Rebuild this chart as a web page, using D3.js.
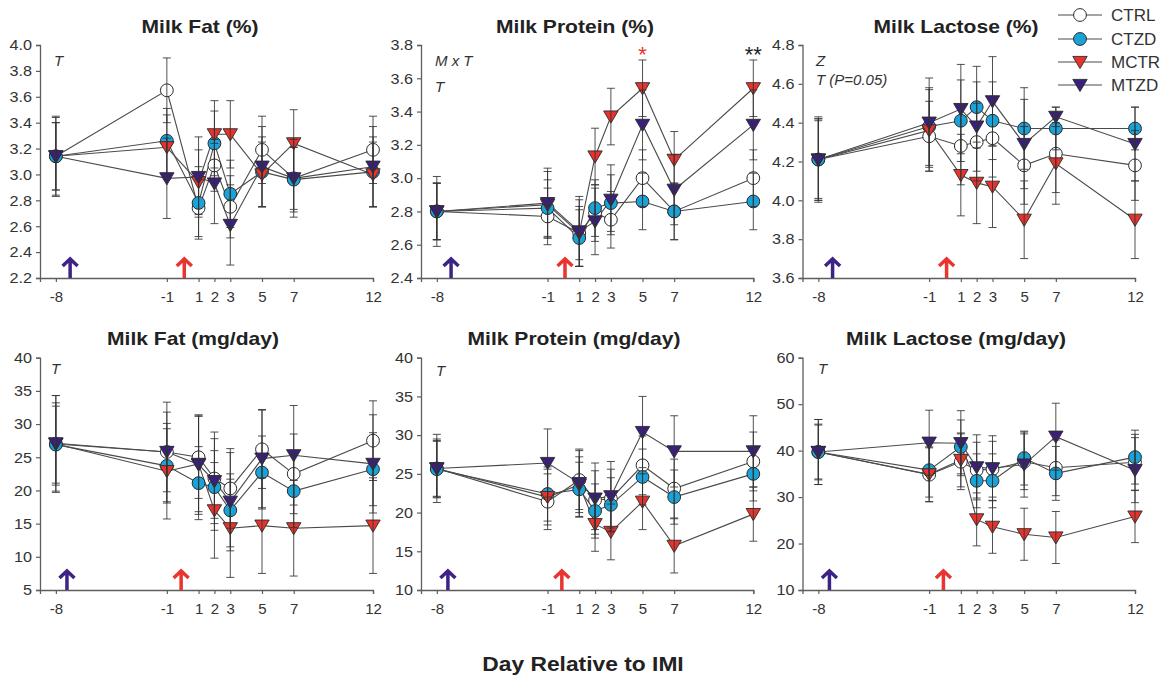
<!DOCTYPE html>
<html>
<head>
<meta charset="utf-8">
<script src="https://cdn.jsdelivr.net/npm/d3@7"></script>
<style>
  body { margin: 0; background: #fff; }
  svg { display: block; font-family: Arial, "Liberation Sans", sans-serif; }
</style>
</head>
<body>
<svg id="chart" width="1167" height="677"></svg>
<script>
// Sampling days relative to intramammary infection (IMI)
const days = [-8, -1, 1, 2, 3, 5, 7, 12];
const groups = ["CTRL", "CTZD", "MCTR", "MTZD"];

// Milk fat (%): means and SE per group
const fatPctMeans = {
  CTRL: [3.14, 3.65, 2.74, 3.07, 2.75, 3.19, 2.97, 3.19],
  CTZD: [3.14, 3.26, 2.78, 3.24, 2.85, 3.02, 2.96, 3.02],
  MCTR: [3.14, 3.21, 2.94, 3.31, 3.31, 3.00, 3.24, 3.00],
  MTZD: [3.14, 2.97, 2.98, 2.93, 2.61, 3.06, 2.97, 3.06]
};
const fatPctSE = {
  CTRL: [0.26, 0.25, 0.22, 0.20, 0.24, 0.26, 0.24, 0.26],
  CTZD: [0.26, 0.25, 0.28, 0.25, 0.26, 0.27, 0.25, 0.27],
  MCTR: [0.30, 0.25, 0.25, 0.26, 0.26, 0.25, 0.26, 0.25],
  MTZD: [0.31, 0.31, 0.31, 0.31, 0.31, 0.31, 0.30, 0.31]
};

// Milk protein (%)
const protPctMeans = {
  CTRL: [2.80, 2.77, 2.67, 2.79, 2.75, 3.00, 2.80, 3.00],
  CTZD: [2.80, 2.82, 2.64, 2.82, 2.85, 2.86, 2.80, 2.86],
  MCTR: [2.80, 2.84, 2.67, 3.13, 3.37, 3.54, 3.11, 3.54],
  MTZD: [2.80, 2.85, 2.68, 2.74, 2.87, 3.32, 2.93, 3.32]
};
const protPctSE = {
  CTRL: [0.17, 0.17, 0.16, 0.17, 0.17, 0.17, 0.17, 0.17],
  CTZD: [0.17, 0.17, 0.17, 0.17, 0.17, 0.17, 0.17, 0.17],
  MCTR: [0.17, 0.20, 0.20, 0.17, 0.17, 0.17, 0.17, 0.17],
  MTZD: [0.21, 0.21, 0.21, 0.20, 0.21, 0.21, 0.21, 0.21]
};

// Milk lactose (%)
const lacPctMeans = {
  CTRL: [4.21, 4.33, 4.28, 4.30, 4.32, 4.18, 4.24, 4.18],
  CTZD: [4.21, 4.38, 4.41, 4.48, 4.41, 4.37, 4.37, 4.37],
  MCTR: [4.21, 4.36, 4.13, 4.09, 4.07, 3.90, 4.19, 3.90],
  MTZD: [4.21, 4.40, 4.47, 4.38, 4.51, 4.29, 4.43, 4.29]
};
const lacPctSE = {
  CTRL: [0.20, 0.18, 0.20, 0.20, 0.20, 0.20, 0.20, 0.18],
  CTZD: [0.21, 0.20, 0.21, 0.21, 0.20, 0.21, 0.11, 0.11],
  MCTR: [0.21, 0.21, 0.21, 0.21, 0.21, 0.20, 0.21, 0.20],
  MTZD: [0.22, 0.23, 0.23, 0.23, 0.23, 0.23, 0.05, 0.19]
};

// Milk fat (mg/day)
const fatYieldMeans = {
  CTRL: [27.0, 25.8, 25.0, 21.8, 20.3, 26.2, 22.5, 27.5],
  CTZD: [26.9, 23.7, 21.1, 20.5, 17.0, 22.7, 19.9, 23.2],
  MCTR: [27.0, 22.9, 24.0, 17.0, 14.3, 14.7, 14.3, 14.7],
  MTZD: [27.1, 25.8, 23.9, 21.4, 18.3, 24.8, 25.3, 24.0]
};
const fatYieldSE = {
  CTRL: [6.2, 6.0, 6.2, 6.0, 6.0, 5.9, 6.0, 6.0],
  CTZD: [5.8, 5.6, 5.5, 5.5, 5.5, 5.5, 5.5, 5.5],
  MCTR: [7.3, 7.2, 7.2, 7.2, 7.4, 7.2, 7.2, 7.2],
  MTZD: [7.2, 7.5, 7.5, 7.4, 7.4, 7.4, 7.5, 7.4]
};

// Milk protein (mg/day)
const protYieldMeans = {
  CTRL: [25.7, 21.4, 24.2, 21.6, 21.8, 26.1, 23.1, 26.6],
  CTZD: [25.6, 22.4, 23.0, 20.2, 21.0, 24.6, 22.0, 25.0],
  MCTR: [25.7, 22.0, 23.6, 18.5, 17.5, 21.4, 15.7, 19.8],
  MTZD: [25.7, 26.4, 23.8, 21.8, 22.1, 30.4, 27.9, 27.9]
};
const protYieldSE = {
  CTRL: [3.8, 3.6, 3.8, 3.8, 3.8, 3.8, 3.8, 3.8],
  CTZD: [3.6, 3.5, 3.5, 3.5, 3.5, 3.6, 3.5, 3.5],
  MCTR: [3.6, 3.6, 3.6, 3.5, 3.6, 3.6, 3.5, 3.5],
  MTZD: [4.4, 4.4, 4.4, 4.6, 4.5, 4.6, 4.6, 4.6]
};

// Milk lactose (mg/day)
const lacYieldMeans = {
  CTRL: [39.7, 34.8, 37.6, 35.8, 36.0, 37.6, 36.3, 37.5],
  CTZD: [39.7, 35.8, 40.8, 33.5, 33.5, 38.4, 35.1, 38.6],
  MCTR: [39.7, 34.9, 38.0, 25.2, 23.6, 22.0, 21.3, 25.8],
  MTZD: [39.7, 41.7, 41.6, 36.4, 36.2, 37.0, 43.0, 35.8]
};
const lacYieldSE = {
  CTRL: [6.0, 5.8, 6.0, 6.0, 6.0, 6.0, 6.0, 6.0],
  CTZD: [5.8, 5.8, 5.8, 5.8, 5.8, 5.8, 5.8, 5.8],
  MCTR: [7.0, 5.9, 5.8, 5.7, 5.7, 5.6, 5.6, 5.6],
  MTZD: [7.0, 7.0, 7.0, 7.0, 7.0, 7.0, 7.2, 7.0]
};

// Axis tick values
const fatPctTicks = [2.2, 2.4, 2.6, 2.8, 3.0, 3.2, 3.4, 3.6, 3.8, 4.0];
const protPctTicks = [2.4, 2.6, 2.8, 3.0, 3.2, 3.4, 3.6, 3.8];
const lacPctTicks = [3.6, 3.8, 4.0, 4.2, 4.4, 4.6, 4.8];
const fatYieldTicks = [5, 10, 15, 20, 25, 30, 35, 40];
const protYieldTicks = [10, 15, 20, 25, 30, 35, 40];
const lacYieldTicks = [10, 20, 30, 40, 50, 60];

// Treatment arrows (day of treatment / day of challenge)
const arrowDaysTop = [-7.1, 0.1];
const arrowDaysBottom = [-7.3, -0.1];

const colors = { CTRL: "#ffffff", CTZD: "#1aa3d9", MCTR: "#e8332c", MTZD: "#3b1f7e" };
const shapes = { CTRL: "circle", CTZD: "circle", MCTR: "tri", MTZD: "tri" };
const arrowColors = ["#3d2385", "#e8352f"];

// Text in this figure is set slightly wide
const WIDE = 1.17;
const hyphenFmt = d => (d < 0 ? "-" + Math.abs(d) : String(d));

const svg = d3.select("#chart");

// Panel layout: plot-area rectangles
const cols = [[40, 373], [421, 753.3], [802.5, 1135]];
const rowsY = [[278, 45], [590, 357.7]];

const panels = [
  { title: "Milk Fat (%)", titleX: 200, means: fatPctMeans, se: fatPctSE, ticks: fatPctTicks, fmt: d3.format(".1f"), col: 0, row: 0,
    notes: [{ t: "T", x: 54, y: 66 }] },
  { title: "Milk Protein (%)", titleX: 575, means: protPctMeans, se: protPctSE, ticks: protPctTicks, fmt: d3.format(".1f"), col: 1, row: 0,
    notes: [{ t: "M x T", x: 435, y: 66 }, { t: "T", x: 435, y: 92 }] },
  { title: "Milk Lactose (%)", titleX: 956, means: lacPctMeans, se: lacPctSE, ticks: lacPctTicks, fmt: d3.format(".1f"), col: 2, row: 0,
    notes: [{ t: "Z", x: 816, y: 66 }, { t: "T (P=0.05)", x: 816, y: 85 }] },
  { title: "Milk Fat (mg/day)", titleX: 193, means: fatYieldMeans, se: fatYieldSE, ticks: fatYieldTicks, fmt: hyphenFmt, col: 0, row: 1,
    notes: [{ t: "T", x: 51, y: 374 }] },
  { title: "Milk Protein (mg/day)", titleX: 574, means: protYieldMeans, se: protYieldSE, ticks: protYieldTicks, fmt: hyphenFmt, col: 1, row: 1,
    notes: [{ t: "T", x: 436, y: 376 }] },
  { title: "Milk Lactose (mg/day)", titleX: 956, means: lacYieldMeans, se: lacYieldSE, ticks: lacYieldTicks, fmt: hyphenFmt, col: 2, row: 1,
    notes: [{ t: "T", x: 818, y: 374 }] }
];

function wideText(parent, x, y, txt, stretch) {
  return parent.append("text")
    .attr("transform", `translate(${x},${y}) scale(${stretch},1)`)
    .text(txt);
}

function drawMarker(sel, g, color) {
  if (shapes[g] === "circle") {
    sel.append("circle").attr("r", 6.4)
      .attr("fill", color).attr("stroke", "#2a2a2a").attr("stroke-width", 1);
  } else {
    sel.append("path").attr("d", "M-7.2,-5.6L7.2,-5.6L0,6.6Z")
      .attr("fill", color).attr("stroke", "#2a2a2a").attr("stroke-width", 0.9)
      .attr("stroke-linejoin", "miter");
  }
}

function drawArrow(parent, x, yBase, color) {
  const tip = yBase - 20;
  parent.append("path")
    .attr("d", `M${x},${yBase}L${x},${tip + 1.5}M${x - 7.5},${tip + 8}L${x},${tip + 1}L${x + 7.5},${tip + 8}`)
    .attr("fill", "none").attr("stroke", color).attr("stroke-width", 3.5)
    .attr("stroke-linejoin", "miter").attr("stroke-linecap", "butt");
}

panels.forEach(p => {
  const [x0, x1] = cols[p.col];
  const [yb, yt] = rowsY[p.row];
  const x = d3.scaleLinear().domain([-9, 12]).range([x0, x1]);
  const y = d3.scaleLinear().domain(d3.extent(p.ticks)).range([yb, yt]);
  const g = svg.append("g");

  // axes
  const yAxis = d3.axisLeft(y).tickValues(p.ticks).tickFormat(p.fmt).tickSizeOuter(0).tickSize(4).tickPadding(3.5);
  const xAxis = d3.axisBottom(x).tickValues(days).tickFormat(hyphenFmt).tickSizeOuter(0).tickSize(4).tickPadding(9);
  const ya = g.append("g").attr("transform", `translate(${x0},0)`).call(yAxis);
  const xa = g.append("g").attr("transform", `translate(0,${yb})`).call(xAxis);
  [ya, xa].forEach(a => {
    a.select(".domain").attr("stroke", "#5e5e5e").attr("stroke-width", 1.3);
    a.selectAll(".tick line").attr("stroke", "#5e5e5e").attr("stroke-width", 1.2);
    a.selectAll(".tick text").attr("fill", "#333").attr("font-size", 15)
      .attr("font-family", "Arial, 'Liberation Sans', sans-serif");
  });
  ya.selectAll(".tick text").attr("transform", "scale(1.08,1)");

  // title
  wideText(g, p.titleX, p.row === 0 ? 33 : 345, p.title, WIDE)
    .attr("text-anchor", "middle").attr("font-size", 18).attr("font-weight", "bold")
    .attr("fill", "#222");

  // statistical notes
  p.notes.forEach(n => {
    g.append("text").attr("x", n.x).attr("y", n.y).attr("font-size", 15)
      .attr("font-style", "italic").attr("fill", "#333").text(n.t);
  });

  // treatment arrows
  const ad = p.row === 0 ? arrowDaysTop : arrowDaysBottom;
  ad.forEach((d, i) => drawArrow(g, x(d), yb, arrowColors[i]));

  // connecting lines
  const line = d3.line().x((d, i) => x(days[i])).y(d => y(d));
  groups.forEach(gr => {
    g.append("path").datum(p.means[gr]).attr("d", line)
      .attr("fill", "none").attr("stroke", "#4a4a4a").attr("stroke-width", 1.1);
  });

  // markers
  groups.forEach(gr => {
    p.means[gr].forEach((v, i) => {
      const m = g.append("g").attr("transform", `translate(${x(days[i])},${y(v)})`);
      drawMarker(m, gr, colors[gr]);
    });
  });

  // error bars (SE)
  groups.forEach(gr => {
    p.means[gr].forEach((v, i) => {
      const cx = x(days[i]);
      const lo = y(v - p.se[gr][i]), hi = y(v + p.se[gr][i]);
      g.append("path")
        .attr("d", `M${cx},${lo}L${cx},${hi}M${cx - 4},${lo}L${cx + 4},${lo}M${cx - 4},${hi}L${cx + 4},${hi}`)
        .attr("stroke", "#333").attr("stroke-width", 1).attr("fill", "none").attr("opacity", 0.85);
    });
  });

  // significance stars on protein %
  if (p.title === "Milk Protein (%)") {
    g.append("text").attr("x", x(5)).attr("y", 62).attr("text-anchor", "middle")
      .attr("font-size", 22).attr("fill", "#e8332c").text("*");
    g.append("text").attr("x", x(12)).attr("y", 62).attr("text-anchor", "middle")
      .attr("font-size", 22).attr("fill", "#222").text("**");
  }
});

// legend
const legendRows = [15, 39, 62, 85];
groups.forEach((gr, i) => {
  const lg = svg.append("g").attr("transform", `translate(0,${legendRows[i]})`);
  lg.append("line").attr("x1", 1058).attr("x2", 1102).attr("y1", 0).attr("y2", 0)
    .attr("stroke", "#4a4a4a").attr("stroke-width", 1.1);
  const m = lg.append("g").attr("transform", "translate(1080,0)");
  drawMarker(m, gr, colors[gr]);
  lg.append("text").attr("x", 1111).attr("y", 6).attr("font-size", 17)
    .attr("fill", "#333").text(gr);
});

// shared x-axis title
wideText(svg, 583, 671, "Day Relative to IMI", 1.14)
  .attr("text-anchor", "middle").attr("font-size", 20).attr("font-weight", "bold").attr("fill", "#222");
</script>
</body>
</html>
